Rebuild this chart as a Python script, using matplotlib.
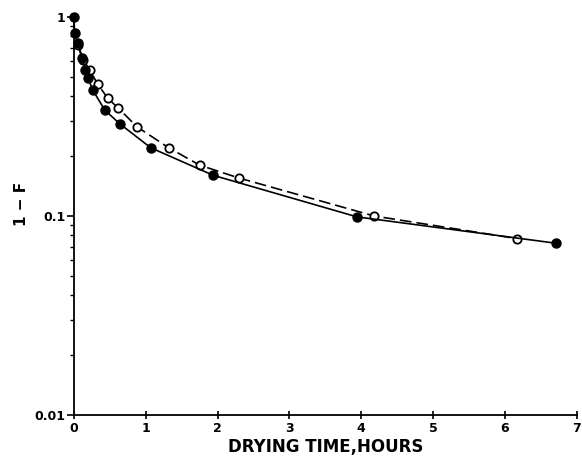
import matplotlib.pyplot as plt
from matplotlib.ticker import LogLocator, FixedLocator, NullFormatter

# 实心点 (solid line)
t_filled = [0.0, 0.01, 0.05, 0.11, 0.16, 0.20, 0.26, 0.43, 0.64, 1.07, 1.94, 3.94, 6.71]
v_filled = [1.0, 0.83, 0.74, 0.62, 0.54, 0.49, 0.43, 0.34, 0.29, 0.22, 0.16, 0.099, 0.073]

# 空心点 (dashed line)
t_open = [0.06, 0.13, 0.22, 0.33, 0.47, 0.61, 0.88, 1.32, 1.75, 2.30, 4.18, 6.17]
v_open = [0.72, 0.61, 0.54, 0.46, 0.39, 0.35, 0.28, 0.22, 0.18, 0.155, 0.10, 0.077]

yticks = [0.01, 0.1, 1]
ylabels = ['0.01', '0.1', '1']

fig = plt.figure(figsize=(5.82, 4.66), dpi=100)
ax = fig.add_axes([0.127, 0.109, 0.864, 0.855])

ax.plot(t_open, v_open, color='black', lw=1.2, dashes=(7, 3),
        marker='o', ms=6, mfc='white', mec='black', mew=1.3, clip_on=False)
ax.plot(t_filled, v_filled, color='black', lw=1.2,
        marker='o', ms=6.5, mfc='black', mec='black', clip_on=False)

ax.set_yscale('log')
ax.set_xlim(0, 7)
ax.set_ylim(0.01, 1)
ax.set_xticks(range(8))
ax.set_xticklabels([str(i) for i in range(8)], fontweight='bold', fontsize=9)
ax.yaxis.set_major_locator(FixedLocator(yticks))
ax.set_yticklabels(ylabels, fontweight='bold', fontsize=9)
ax.yaxis.set_minor_locator(LogLocator(base=10, subs=range(2, 10)))
ax.yaxis.set_minor_formatter(NullFormatter())

for s in ['top', 'right']:
    ax.spines[s].set_visible(False)
for s in ['left', 'bottom']:
    ax.spines[s].set_linewidth(1.3)

ax.tick_params(axis='x', direction='inout', length=6, width=1.2, pad=2)
ax.tick_params(axis='y', which='major', direction='out', length=5, width=1.2, pad=1)
ax.tick_params(axis='y', which='minor', direction='out', length=3, width=1.0)

ax.set_xlabel('DRYING TIME,HOURS', fontweight='bold', fontsize=12, labelpad=2)
ax.set_ylabel('1 − F', fontweight='bold', fontsize=11)
ax.yaxis.set_label_coords(-0.09, 0.53)

plt.savefig('out.png', dpi=100)
